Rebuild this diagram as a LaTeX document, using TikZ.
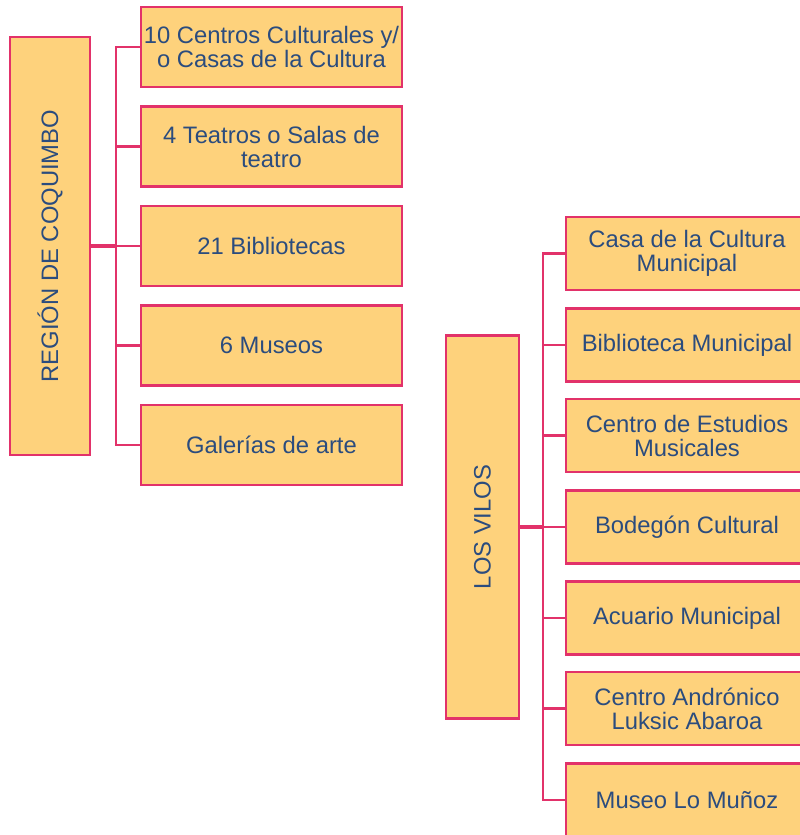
\documentclass[tikz,border=0pt]{standalone}
\usepackage{fontspec}
\setmainfont{Liberation Sans}
\definecolor{boxfill}{HTML}{FED27C}
\definecolor{boxline}{HTML}{E2326A}
\definecolor{txt}{HTML}{2B4C7E}
\begin{document}
\begin{tikzpicture}[x=1pt,y=-1pt,
  box/.style={draw=boxline,fill=boxfill,line width=2.6pt,inner sep=0pt,align=center,
    text=txt,font=\fontsize{23.8}{24}\selectfont},
  lbox/.style={box,minimum width=261pt,minimum height=80pt},
  rbox/.style={box,minimum width=242pt,minimum height=73pt},
  link/.style={draw=boxline,line width=2.4pt},
  stub/.style={draw=boxline,line width=3.6pt}]
\useasboundingbox (0,0) rectangle (800,835);
\clip (0,0) rectangle (800,835);
% left group
\node[box,minimum width=80pt,minimum height=418pt] (L) at (50,246) {};
\node[text=txt,rotate=90,font=\fontsize{23.8}{24}\selectfont] (Lt) at (L.center) {REGIÓN DE COQUIMBO};
\node[lbox] (l1) at (271.5,47) {10 Centros Culturales y/\\o Casas de la Cultura};
\node[lbox] (l2) at (271.5,146.5) {4 Teatros o Salas de\\teatro};
\node[lbox] (l3) at (271.5,246) {21 Bibliotecas};
\node[lbox] (l4) at (271.5,345.5) {6 Museos};
\node[lbox] (l5) at (271.5,445) {Galerías de arte};
\coordinate (Lj) at (116,246);
\draw[stub] (L.east) -- (Lj);
\foreach \c in {l1,l2,l3,l4,l5} \draw[link] (Lj) |- (\c.west);
% right group
\node[box,minimum width=73pt,minimum height=383pt] (R) at (482.5,527) {};
\node[text=txt,rotate=90,font=\fontsize{23.8}{24}\selectfont] (Rt) at (R.center) {LOS VILOS};
\node[rbox] (r1) at (687,253.5) {Casa de la Cultura\\Municipal};
\node[rbox] (r2) at (687,345) {Biblioteca Municipal};
\node[rbox] (r3) at (687,435.5) {Centro de Estudios\\Musicales};
\node[rbox] (r4) at (687,527) {Bodegón Cultural};
\node[rbox] (r5) at (687,618) {Acuario Municipal};
\node[rbox] (r6) at (687,708.5) {Centro Andrónico\\Luksic Abaroa};
\node[rbox] (r7) at (687,800) {Museo Lo Muñoz};
\coordinate (Rj) at (543,527);
\draw[stub] (R.east) -- (Rj);
\foreach \c in {r1,r2,r3,r4,r5,r6,r7} \draw[link] (Rj) |- (\c.west);
\end{tikzpicture}
\end{document}
